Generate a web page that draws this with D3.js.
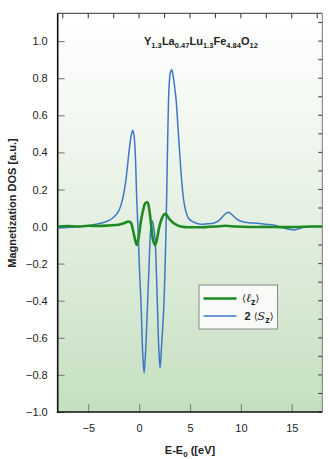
<!DOCTYPE html>
<html><head><meta charset="utf-8">
<script src="https://cdn.jsdelivr.net/npm/d3@7"></script>
<style>body{margin:0;background:#fff}svg{display:block}text{font-family:"Liberation Sans",Arial,sans-serif}</style>
</head><body><svg id="c" width="330" height="459"></svg>
<script>
// Blue: 2<Sz>
const sE = [-8,-7,-6,-5,-4.3,-3.5,-3,-2.5,-2,-1.64,-1.3,-0.98,-0.75,-0.62,-0.5,-0.39,-0.23,-0.07,0.05,0.2,0.35,0.49,0.63,0.82,0.95,1.08,1.2,1.3,1.42,1.57,1.7,1.8,1.93,2.06,2.2,2.43,2.62,2.72,2.8,2.88,2.97,3.07,3.2,3.35,3.5,3.64,3.8,3.97,4.15,4.36,4.6,4.85,5.3,6,6.7,7.3,7.9,8.4,8.78,9.2,9.6,10.1,10.8,11.6,12.4,13.2,14,14.7,15.3,15.8,16.5,17.2,18];
const sV = [-0.008,-0.005,0,0.005,0.012,0.022,0.032,0.05,0.085,0.144,0.25,0.41,0.5,0.52,0.49,0.41,0.144,-0.07,-0.25,-0.43,-0.68,-0.79,-0.68,-0.43,-0.25,-0.07,0.02,0.03,0,-0.07,-0.25,-0.43,-0.65,-0.763,-0.65,-0.43,-0.07,0.2,0.45,0.66,0.78,0.83,0.845,0.81,0.75,0.68,0.55,0.41,0.27,0.15,0.08,0.045,0.025,0.013,0.015,0.018,0.035,0.065,0.077,0.06,0.04,0.027,0.02,0.018,0.012,0.008,-0.004,-0.014,-0.018,-0.01,0,0,0];
// Green: <lz>
const lE = [-8,-7,-6,-5,-4,-3,-2,-1.5,-1.05,-0.8,-0.6,-0.4,-0.23,-0.05,0.15,0.4,0.6,0.82,1.0,1.2,1.4,1.57,1.75,1.95,2.2,2.45,2.62,2.85,3.05,3.4,3.7,4,4.5,5.5,6.5,7.5,8.5,9.5,11,12.5,14,15.5,17,18];
const lV = [0,0.003,0,0.004,0.003,0.006,0.01,0.018,0.027,0.02,-0.02,-0.07,-0.099,-0.06,0.02,0.09,0.125,0.13,0.09,0,-0.08,-0.099,-0.07,-0.01,0.04,0.065,0.068,0.05,0.036,0.018,0.009,0.002,-0.003,-0.004,-0.003,0,0.004,0,-0.002,-0.002,-0.003,-0.002,0,0];
const xTicks = [-5,0,5,10,15];
const yTicks = [-1.0,-0.8,-0.6,-0.4,-0.2,0.0,0.2,0.4,0.6,0.8,1.0];
const xLabel = "E-E";
const yLabel = "Magnetization DOS [a.u.]";
const titleParts = [["Y","1.3"],["La","0.47"],["Lu","1.3"],["Fe","4.84"],["O","12"]];

const svg = d3.select("#c");
const L=57.7,R=322.3,T=13.3,B=412;
const x = d3.scaleLinear().domain([-8,18]).range([L,R]);
const y = d3.scaleLinear().domain([-1,1.15]).range([B,T]);

const defs = svg.append("defs");
const g = defs.append("linearGradient").attr("id","bg").attr("x1",0).attr("y1",0).attr("x2",0).attr("y2",1);
g.append("stop").attr("offset","0%").attr("stop-color","#ffffff");
g.append("stop").attr("offset","30%").attr("stop-color","#f1f7ef");
g.append("stop").attr("offset","65%").attr("stop-color","#dcebd8");
g.append("stop").attr("offset","100%").attr("stop-color","#c4dfc0");
defs.append("clipPath").attr("id","clip").append("rect").attr("x",L).attr("y",T).attr("width",R-L).attr("height",B-T);

svg.append("rect").attr("x",L).attr("y",T).attr("width",R-L).attr("height",B-T).attr("fill","url(#bg)");

// ticks inside
svg.append("g").selectAll("line").data(d3.range(-7.5,18,2.5)).join("line")
 .attr("x1",d=>x(d)).attr("x2",d=>x(d)).attr("y1",T).attr("y2",T+5).attr("stroke","#333").attr("stroke-width",1);
svg.append("g").selectAll("line").data(d3.range(-10,12).map(i=>i/10)).join("line")
 .attr("x1",R-4).attr("x2",R).attr("y1",d=>y(d)).attr("y2",d=>y(d)).attr("stroke","#333").attr("stroke-width",1);

const xAxis = svg.append("g").attr("transform",`translate(0,${B})`)
 .call(d3.axisBottom(x).tickValues(xTicks).tickSize(-8).tickPadding(12).tickFormat(d3.format("d")));
const yAxis = svg.append("g").attr("transform",`translate(${L},0)`)
 .call(d3.axisLeft(y).tickValues(yTicks).tickSize(-7).tickPadding(10).tickFormat(d3.format(".1f")));
[xAxis,yAxis].forEach(a=>{
  a.select(".domain").remove();
  a.selectAll(".tick line").attr("stroke","#888").attr("stroke-width",1.2);
  a.selectAll(".tick text").attr("font-size",11).attr("fill","#222").attr("font-family","Liberation Sans, Arial, sans-serif");
});
// frame
svg.append("line").attr("x1",L).attr("x2",R).attr("y1",T).attr("y2",T).attr("stroke","#333").attr("stroke-width",1);
svg.append("line").attr("x1",R).attr("x2",R).attr("y1",T).attr("y2",B).attr("stroke","#777").attr("stroke-width",1);
svg.append("line").attr("x1",L).attr("x2",L).attr("y1",T).attr("y2",B+0.8).attr("stroke","#111").attr("stroke-width",1.6);
svg.append("line").attr("x1",L-0.8).attr("x2",R).attr("y1",B).attr("y2",B).attr("stroke","#111").attr("stroke-width",1.6);

const line = d3.line().x(d=>x(d[0])).y(d=>y(d[1])).curve(d3.curveCatmullRom.alpha(0.5));
const plot = svg.append("g").attr("clip-path","url(#clip)");
plot.append("path").datum(sE.map((e,i)=>[e,sV[i]])).attr("d",line).attr("fill","none").attr("stroke","#3f77c8").attr("stroke-width",1.5);
plot.append("path").datum(lE.map((e,i)=>[e,lV[i]])).attr("d",line).attr("fill","none").attr("stroke","#1e8a24").attr("stroke-width",2.6);

// title
const tt = svg.append("text").attr("x",144).attr("y",45).attr("font-weight","bold").attr("font-size",11).attr("fill","#222");
titleParts.forEach(p=>{
  tt.append("tspan").attr("dy",0).text(p[0]);
  tt.append("tspan").attr("font-size",7.5).attr("dy",3).text(p[1]);
  tt.append("tspan").attr("font-size",1).attr("dy",-3).text("\u200a");
});

// axis labels
svg.append("text").attr("transform","translate(16,203) rotate(-90)").attr("text-anchor","middle")
 .attr("font-weight","bold").attr("font-size",11).attr("fill","#222").text(yLabel);
const xl = svg.append("text").attr("x",190).attr("y",454).attr("text-anchor","middle").attr("font-weight","bold").attr("font-size",11).attr("fill","#222");
xl.append("tspan").text(xLabel);
xl.append("tspan").attr("font-size",8).attr("dy",3).text("0");
xl.append("tspan").attr("dy",-3).text(" ([eV]");

// legend
const lg = svg.append("g");
lg.append("rect").attr("x",199).attr("y",285).attr("width",78.5).attr("height",44).attr("fill","#f7faf6").attr("stroke","#888").attr("stroke-width",1);
const items = [["#1e8a24",2.6,298.5],["#3f77c8",1.5,316]];
items.forEach(it=>lg.append("line").attr("x1",203.5).attr("x2",236.5).attr("y1",it[2]).attr("y2",it[2]).attr("stroke",it[0]).attr("stroke-width",it[1]));
const t1 = lg.append("text").attr("x",242).attr("y",302).attr("font-size",12).attr("fill","#222");
t1.append("tspan").attr("font-family","DejaVu Serif").attr("font-size",10).text("\u27e8");
t1.append("tspan").attr("font-family","DejaVu Serif").attr("font-style","italic").text("\u2113");
t1.append("tspan").attr("font-weight","bold").attr("font-size",9).attr("dy",3).text("z");
t1.append("tspan").attr("font-family","DejaVu Serif").attr("font-size",10).attr("dy",-3).text("\u27e9");
const t2 = lg.append("text").attr("x",244.5).attr("y",320).attr("font-size",12).attr("fill","#222");
t2.append("tspan").attr("font-weight","bold").attr("font-size",11).text("2 ");
t2.append("tspan").attr("font-family","DejaVu Serif").attr("font-size",10).text("\u27e8");
t2.append("tspan").attr("font-family","DejaVu Serif").attr("font-style","italic").attr("font-size",11).text("S");
t2.append("tspan").attr("font-weight","bold").attr("font-size",9).attr("dy",3).text("z");
t2.append("tspan").attr("font-family","DejaVu Serif").attr("font-size",10).attr("dy",-3).text("\u27e9");
</script></body></html>
